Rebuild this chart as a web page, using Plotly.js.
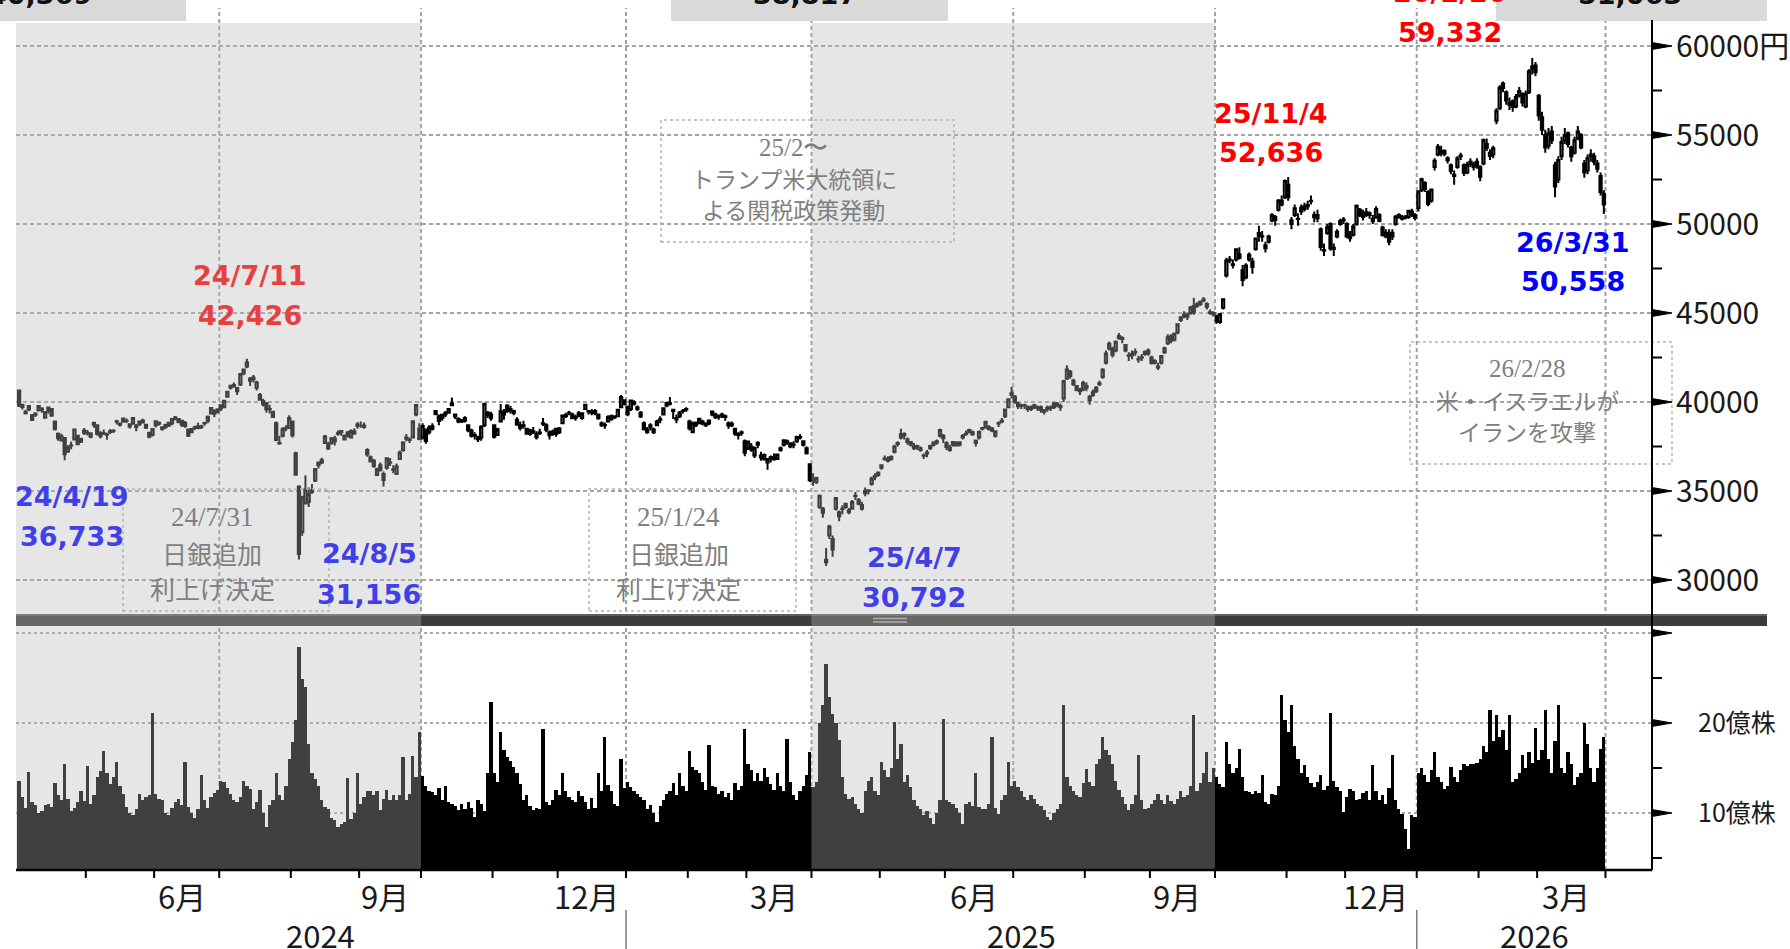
<!DOCTYPE html>
<html>
<head>
<meta charset="utf-8">
<script src="https://cdn.plot.ly/plotly-3.0.1.min.js"></script>
<style>
html,body{margin:0;padding:0;background:#fff;overflow:hidden}
#chart{width:1790px;height:949px}
</style>
</head>
<body>
<div id="chart"></div>
<script>
// ---------- DATA (Nikkei 225 daily, Apr 2024 - Mar 2026) ----------
// trading days in each month, starting April 2024
const startYear = 2024, startMonth = 4;
const monthDays = [21,21,20,22,21,19,22,20,21, 19,18,20,21,20,21,22,20,20,22,18,22, 19,18,21];

const openP = [
// 2024-04
40646,39720,39370,39580,39250,39290,39530,39630,39120,39690,39600,38900,38210,37840,37980,37200,37560,37900,38110,37770,38270,
// 2024-05
38240,38050,38720,38690,38260,38240,38160,38310,38380,38900,38720,38890,38950,38750,38780,38600,38750,38960,38720,38270,38160,
// 2024-06
38700,38780,38580,38590,38840,38800,39050,39050,38940,38650,38450,38300,38580,38540,38630,38820,38950,39350,39480,39450,
// 2024-07
39820,39700,40300,40800,40960,40600,40980,41620,42000,41300,41380,40800,40400,39880,39950,39600,39450,38800,37700,38100,38520,38540,
// 2024-08
38900,37120,35250,32700,34300,34400,34950,35570,36600,36600,37700,37600,37700,37800,38240,38300,37900,38130,38000,38210,38730,
// 2024-09
38700,38600,37300,36900,36700,35900,36450,35950,36300,36600,36200,35950,36800,37300,38000,37900,38000,39300,38500,
// 2024-10
38000,38450,38300,38500,39500,39200,39100,39300,39400,39820,39300,39050,38900,39100,38700,38400,38100,38000,38000,38700,39400,39300,
// 2024-11
38700,38150,38900,39300,39800,39600,39500,39000,38700,38700,38500,38200,38300,38200,38250,38800,38700,38300,38200,38500,
// 2024-12
38300,38800,39200,39400,39300,39100,39200,39100,39600,39500,39400,39500,39300,38700,38700,38900,39200,39200,39200,39700,40100,
// 2025-01
39700,39600,39900,39700,39400,38800,38300,38700,38300,38700,39000,39300,39800,39900,39500,39100,39200,39500,39600,
// 2025-02
38900,38300,38700,38800,38900,38700,38800,39300,39300,39200,39300,39200,38800,38700,38500,38200,38300,37800,
// 2025-03
37400,37500,37000,37600,37000,36800,36600,36900,36900,36800,37300,37600,37800,37500,37600,37800,38000,37600,37400,36500,
// 2025-04
35600,35500,34100,34000,31000,32500,32300,34000,33800,34000,34100,33800,34000,34700,34500,34000,35000,35000,35400,35800,35900,
// 2025-05
36300,36800,36700,36800,37200,37700,38000,38200,37900,37600,37400,37500,37400,37000,37100,37400,37600,37800,38100,38100,
// 2025-06
37700,37300,37600,37700,37600,38000,38200,38300,38300,37700,38000,38500,38600,38600,38500,38100,38800,38900,39200,39700,40400,
// 2025-07
40300,39900,39800,39800,39700,39600,39700,39700,39700,39500,39600,39700,39700,39900,39700,40200,41300,41700,41200,40900,40600,40700,
// 2025-08
40900,40100,40400,40600,41000,41400,42200,43000,43000,42900,43600,43600,43200,42600,42700,42800,42400,42500,42700,42900,
// 2025-09
42500,42200,42000,42200,42800,43300,43700,43500,43900,44600,44800,44900,45000,45400,45400,45500,45700,45500,45000,45000,
// 2025-10
44800,44500,45300,47100,48000,47700,48000,48300,47400,47000,48000,47900,48600,49500,49300,48800,49000,50200,50400,50800,51100,51500,
// 2025-11
52200,50000,50500,50300,50700,51000,51000,51300,50500,50500,49700,48500,49500,50000,48600,49300,50000,50200,
// 2025-12
50000,49200,49400,50000,50800,50400,50500,50500,50300,50400,50500,49800,49300,49500,49300,50000,50500,50300,50350,50400,50700,50500,
// 2026-01
50900,51900,52300,51800,51300,53200,53900,54000,54100,53700,53300,52700,53200,53800,53300,52900,53500,53200,53500,
// 2026-02
53200,53400,54500,54000,53900,55800,56500,57900,57400,56700,56900,56600,57200,57300,56600,57400,58700,58900,
// 2026-03
57200,56000,55000,54400,55200,53300,52500,53800,54700,55100,54300,54000,54800,55000,53400,53000,53800,53800,53400,52700,51700
];

const highP = [
40697,39900,39560,39790,39330,39420,39820,39700,39500,39750,39640,38940,38290,38220,38000,37570,37780,38470,38150,37990,38540,
38420,38300,38860,38720,38360,38450,38270,38480,38470,39000,38850,39130,39070,38810,39140,38770,38960,39060,38760,38290,38540,
38950,38910,38620,38780,38890,39080,39210,39090,39000,38930,38500,38500,38660,38830,38720,38890,39240,39700,39590,39650,
39840,40100,40630,40960,41100,40860,41600,41840,42426,41400,41520,41200,40500,40180,40000,39850,39480,38910,38100,38590,38700,39250,
38950,37200,35250,34740,35880,35200,35400,36280,36650,36870,38140,37750,38030,38100,38400,38400,38170,38370,38450,38520,38880,
38900,38850,37400,37000,36800,36300,36600,36100,36900,36850,36450,36550,37280,37800,38200,38000,38950,39870,38800,
38800,38500,38700,38800,39550,39300,39330,39500,39650,40250,39350,39150,39050,39200,38750,38500,38300,38100,38700,39930,39500,39450,
38750,38550,39890,39600,39880,39780,39570,39150,38900,38950,38560,38500,38600,38350,38500,39100,38800,38400,38450,38550,
38600,39300,39400,39500,39400,39280,39500,39400,39900,39550,39600,39600,39350,38900,38850,39250,39300,39250,39600,40400,40100,
39800,40100,40100,39800,39500,38900,38600,38800,38550,39000,39200,39700,40000,40280,39600,39300,39500,39600,39700,
39000,38900,38900,39100,39000,38850,39000,39500,39400,39300,39400,39300,38900,38900,38550,38300,38400,37900,
37800,37700,37500,37800,37200,37100,36850,37000,37100,37100,37500,37900,37900,37700,37800,38100,38200,37850,37500,36500,
36000,35800,34800,34100,31800,33100,32500,34640,33900,34200,34350,34050,34500,34950,34600,34400,35200,35100,35800,36000,36100,
36500,37000,36950,37000,37600,37800,38500,38300,38000,37800,37700,37600,37500,37100,37300,37600,37800,37900,38500,38200,
37800,37600,37800,37800,37800,38200,38400,38500,38400,37900,38400,38600,38900,38700,38600,38400,38900,39100,39600,40200,40850,
40400,40000,39900,39900,39800,39800,39900,39800,39800,39600,39800,39800,40000,40000,39900,41250,42065,41800,41300,40900,40800,41200,
41100,40400,40700,40900,41200,41900,42900,43400,43100,43450,43876,43700,43200,42800,42900,43000,42600,42700,42900,43000,
42600,42400,42200,42600,43100,43800,43800,43900,44400,44800,45100,45000,45400,45850,45600,45700,45900,45600,45200,45100,
44900,45000,45800,48100,48200,48000,48600,48700,47700,47800,48400,48100,49200,49900,49600,49000,49400,50600,50500,51400,51600,52500,
52636,50400,51100,50600,51100,51200,51300,51600,50700,50800,49800,48900,50000,50100,48900,49700,50300,50400,
50100,49600,50000,51100,50900,50800,50900,50700,50500,51000,50600,49900,49700,49700,49700,50500,50600,50500,50500,50800,50850,50600,
51900,52600,52400,51900,52000,53700,54500,54400,54200,53800,53400,53000,53800,54000,53400,53500,53700,53500,53700,
53300,54800,54800,54200,54400,56500,57800,58000,57500,57100,57000,57300,57700,57400,57500,58700,59332,59100,
57300,56300,55300,55400,55500,53500,53800,54900,55400,55200,54400,54900,55500,55100,53600,53900,54200,54000,53600,52900,51900
];

const lowP = [
39720,39580,39300,39500,38950,39160,39460,39400,39060,39340,39210,38400,37820,37780,36733,37150,37340,37890,37590,37700,38150,
38120,37970,38550,38120,37950,38150,37880,38200,38260,38730,38620,38830,38820,38510,38730,38360,38650,38800,38480,37970,38060,
38570,38680,38380,38480,38600,38700,38970,38800,38600,38550,38040,38250,38420,38470,38480,38660,38800,39300,39150,39350,
39500,39650,40270,40700,40800,40400,40900,41500,41900,40900,41100,40650,40100,39750,39400,39350,39100,37800,37600,38000,38350,38500,
38000,35880,31156,32480,34300,34100,34850,35500,36270,36500,37640,37300,37600,37550,38100,38100,37900,38000,37950,38200,38500,
38550,38500,36930,36620,36300,35850,36100,35250,36200,36400,36000,35900,36750,37200,37800,37700,37950,39200,37850,
37900,37650,38180,38400,39250,38700,38950,39150,39350,39800,39050,38800,38820,38850,38300,38000,37900,37750,37830,38600,39100,38950,
37950,38100,38880,39000,39400,39350,39250,38700,38400,38500,38180,38100,38200,37900,38150,38650,38300,37900,38100,38050,
38200,38750,39100,39250,39050,38950,39150,39000,39550,39300,39250,39250,39000,38600,38500,38850,38950,39050,39150,39700,39800,
39200,39500,39800,39500,39100,38400,38220,38400,38200,38650,38800,39250,39700,39800,39050,38800,39100,39350,39450,
38400,38250,38600,38750,38700,38600,38700,39200,39050,39000,39100,38950,38500,38600,38100,37900,38100,36950,
37300,37200,36850,37400,36700,36700,36200,36600,36700,36750,37200,37500,37600,37400,37400,37700,37900,37500,37050,35500,
35300,35400,34000,33500,30792,32300,31300,33900,33300,33700,34000,33700,33950,34500,34200,33900,34700,34800,35300,35600,35800,
36200,36700,36600,36700,37100,37500,37900,37900,37600,37500,37300,37300,37200,36800,36900,37300,37500,37600,38000,37700,
37300,37200,37500,37500,37500,37900,38100,38250,38100,37500,37900,38400,38500,38400,38300,38000,38600,38800,39100,39700,40200,
39900,39600,39600,39600,39450,39500,39600,39500,39400,39300,39450,39500,39600,39700,39500,40000,41300,41300,40900,40600,40400,40600,
40600,39850,40300,40500,40900,41300,42100,42900,42500,42800,43500,43300,42800,42300,42400,42600,42200,42300,42600,42600,
42100,42100,41800,42100,42700,43200,43300,43400,43800,44500,44700,44600,44900,44900,45300,45400,45600,45200,44900,44800,
44400,44400,45200,47000,47800,47500,47900,48000,46500,46900,47900,47200,48500,49000,49000,48400,48900,50100,49900,50700,51000,51400,
51300,49700,50400,49900,50500,50700,50800,51100,50100,50100,48500,48200,49400,48500,48200,49200,49900,50000,
49200,49000,49300,49900,50400,50200,50400,50300,50000,50300,50100,49300,49200,48800,49100,49900,50300,50200,50250,50300,50400,50200,
50700,51800,51800,51000,51200,53000,53800,53800,53800,53400,52800,52200,53100,53600,52700,52800,53200,53000,53100,
52400,53300,54100,53600,53700,55600,56400,57400,56700,56400,56300,56500,57100,56600,56500,57300,58400,58300,
55800,55000,54000,54200,54500,51500,52300,53600,54500,54300,53500,53900,54700,54200,52600,52800,53500,53300,52900,51600,50558
];

const closeP = [
39803,39838,39451,39773,38992,39347,39773,39581,39442,39523,39233,38471,37961,38079,37068,37438,37552,38460,37628,37934,38405,
38274,38236,38835,38202,38073,38229,38179,38356,38385,38920,38787,39069,38946,38617,39103,38646,38900,38855,38556,38054,38487,
38923,38837,38490,38703,38683,39038,39134,38876,38720,38814,38102,38482,38570,38633,38596,38804,39173,39667,39341,39583,
39631,40074,40580,40913,40912,40780,41580,41831,42224,41190,41275,41097,40126,40063,39599,39594,39154,37869,37667,38468,38525,39101,
38126,35909,31458,34675,35089,34831,35025,36232,36442,36726,38062,37388,37964,37951,38211,38364,38110,38288,38371,38362,38647,
38700,38686,37047,36657,36391,36215,36159,35619,36833,36581,36203,36380,37155,37723,37940,37870,38925,39829,37919,
38651,37808,38552,38635,39332,38937,39277,39380,39605,39910,39180,38911,38981,38954,38411,38104,38143,37913,38605,39903,39277,39081,
38053,38474,39480,39381,39500,39533,39376,38721,38535,38642,38220,38414,38352,38026,38283,38780,38442,38134,38349,38208,
38513,39248,39276,39395,39091,39160,39367,39372,39849,39470,39457,39364,39081,38813,38701,39161,39036,39130,39568,40281,39894,
39307,40083,39981,39605,39190,38474,38445,38572,38451,38902,39027,39646,39958,39931,39565,39016,39415,39513,39572,
38520,38798,38831,39066,38787,38801,38963,39461,39149,39174,39270,39164,38678,38776,38237,38142,38256,37155,
37785,37331,37418,37704,36887,37028,36793,36819,36790,37053,37396,37845,37751,37677,37608,38027,38027,37799,37120,35617,
35624,35725,34736,33780,31136,33012,31714,34609,33586,33982,34267,33920,34377,34730,34280,34220,34868,35039,35705,35839,36045,
36452,36830,36779,36928,37503,37644,38183,38128,37755,37753,37498,37529,37298,36985,37160,37531,37724,37722,38432,37965,
37470,37446,37747,37554,37741,38088,38211,38421,38173,37834,38311,38536,38885,38488,38403,38354,38790,38942,39584,40150,40487,
39986,39762,39785,39811,39587,39688,39821,39646,39570,39459,39678,39663,39901,39819,39774,41171,41826,41456,40998,40674,40654,41069,
40800,40290,40549,40794,41059,41820,42718,43274,42649,43378,43714,43546,42888,42610,42633,42807,42394,42520,42829,42718,
42188,42310,41938,42580,43018,43643,43459,43837,44372,44768,44902,44790,45303,45045,45493,45630,45754,45354,45043,44932,
44550,44936,45769,47944,47950,47734,48580,48088,46847,47672,48277,47582,49185,49316,49307,48641,49299,50512,50219,51307,51325,52411,
51497,50212,50883,50276,50911,50842,51063,51281,50376,50323,48702,48537,49823,48625,48659,49559,50167,50253,
49303,49303,49864,51028,50491,50581,50655,50602,50148,50837,50168,49383,49512,49001,49507,50402,50412,50344,50407,50750,50527,50339,
51830,52520,51960,51120,51940,53550,54340,54110,53940,53580,52990,52770,53690,53850,52880,53330,53360,53380,53320,
52650,54720,54290,53820,54250,56360,57650,57640,56940,56810,56570,57140,57470,56830,57320,58580,58850,58520,
56100,55300,54300,55100,54700,52100,53600,54600,55000,54500,53800,54700,55200,54300,52900,53700,53900,53500,53100,51800,51100
];

// volume, 億株
const volume = [
13.6,11.8,10.6,14.6,11.2,10.9,10.0,10.2,10.9,11.0,10.7,13.3,12.0,11.5,15.5,11.6,10.2,10.6,11.2,12.4,11.3,
15.2,11.0,12.0,14.0,14.7,16.9,14.5,13.2,14.0,15.7,13.0,12.1,10.7,10.0,9.8,10.5,12.1,11.5,11.8,12.0,21.1,
12.1,11.6,11.4,10.0,9.8,10.6,11.2,11.6,10.9,15.7,10.7,10.0,9.4,10.5,14.2,11.4,10.6,11.8,12.2,12.6,
13.6,13.4,12.8,12.1,11.5,11.2,11.8,13.6,13.0,12.7,10.5,11.2,12.6,10.0,8.4,10.9,11.5,14.5,12.0,11.4,13.0,16.0,
17.9,20.3,28.4,24.9,24.0,17.7,14.4,13.8,13.0,11.4,10.7,10.4,9.5,9.2,8.4,8.8,9.0,13.9,9.3,10.0,14.5,
11.0,11.8,12.5,12.5,12.0,12.5,10.3,11.6,12.6,11.5,12.0,11.4,12.0,16.2,11.4,12.1,16.3,14.0,19.0,
14.1,13.0,12.5,12.3,12.0,12.8,11.4,13.0,11.2,11.0,10.8,10.3,11.0,10.5,11.2,10.6,9.6,11.5,11.0,10.2,14.4,22.3,
14.4,13.5,19.0,17.0,16.2,15.8,15.1,14.4,13.2,11.4,12.0,10.8,10.3,10.6,10.5,19.3,11.2,10.9,11.4,12.6,
12.0,14.4,12.5,11.8,11.4,11.2,12.5,11.9,11.2,10.5,11.7,10.6,14.4,12.5,18.4,13.1,12.4,11.0,10.8,16.0,12.8,
13.5,12.9,12.5,12.1,11.8,11.4,10.5,10.9,10.0,9.0,10.8,11.4,12.1,12.4,13.3,12.0,14.4,13.0,12.5,
16.9,15.1,14.8,14.5,13.5,12.6,17.6,13.0,12.9,12.1,12.5,11.8,12.2,11.5,13.3,12.6,13.0,19.3,
15.5,14.8,13.6,14.5,13.6,15.0,14.0,13.2,12.6,14.5,13.0,12.5,18.2,13.5,12.0,11.4,12.4,13.0,14.2,16.8,
12.9,13.5,20.0,22.0,26.6,22.9,21.0,20.0,18.1,14.0,12.1,11.6,11.8,11.0,10.4,10.0,12.5,13.6,14.0,12.5,12.0,
15.7,14.8,14.0,15.0,20.1,16.0,17.7,13.5,14.2,12.9,11.4,10.8,10.5,9.8,10.2,9.5,8.8,10.0,11.4,20.4,
11.4,11.2,11.0,10.6,10.0,8.8,11.0,11.2,10.8,14.4,10.7,10.5,10.4,11.0,18.4,10.6,9.9,11.5,12.0,15.7,13.0,
13.6,12.9,12.5,11.8,11.4,12.0,11.6,11.0,10.8,10.3,9.6,9.2,10.0,10.5,11.0,22.0,14.0,13.0,12.5,12.0,11.8,13.3,
14.9,13.5,13.0,15.5,16.0,18.5,17.0,16.5,15.5,13.6,12.6,11.8,11.0,10.3,11.0,12.0,16.4,11.4,10.5,10.6,
11.0,11.5,12.1,11.4,11.0,12.0,11.3,11.0,11.6,12.5,11.8,12.0,13.0,20.9,12.5,13.3,14.5,16.8,13.5,15.0,
14.0,13.2,12.9,17.9,15.5,14.4,15.0,17.1,14.0,12.5,12.3,12.1,12.5,12.2,14.2,11.2,11.0,12.1,12.0,13.0,23.1,20.3,
19.0,22.0,17.5,16.0,14.5,15.3,14.0,13.3,12.9,13.5,14.2,12.6,13.0,21.1,13.6,12.9,12.5,10.1,
11.8,12.7,12.5,11.4,11.6,12.2,12.4,11.5,15.3,12.5,11.4,12.0,11.0,12.8,16.4,11.4,10.5,9.9,8.2,6.0,9.8,9.6,
14.4,15.0,14.2,13.5,14.8,16.8,14.0,13.4,12.7,13.0,15.1,14.0,13.5,14.8,15.4,15.2,15.5,15.4,15.6,
16.0,17.5,16.8,21.4,18.0,20.9,18.5,19.2,17.0,20.9,13.4,13.8,14.5,16.4,15.0,16.8,15.6,19.4,
15.9,17.0,21.4,16.0,14.4,18.0,22.0,15.0,14.4,16.8,15.5,13.1,14.0,14.5,20.0,17.7,15.0,13.4,15.0,17.1,18.4
];

const priceTicks = [30000,35000,40000,45000,50000,55000,60000];
const priceTickText = ['30000','35000','40000','45000','50000','55000','60000円'];
const priceMinor = [32500,37500,42500,47500,52500,57500];
const volTicks = [10,20,30];
const volTickText = ['10億株','20億株',''];
const volMinor = [5,15,25];

// labelled highs / lows
const markLabels = [
  {date:'24/7/11', value:'42,426', fx:250,  fy1:275, fy2:315, color:'#e64040'},
  {date:'24/4/19', value:'36,733', fx:72,   fy1:497, fy2:536, color:'#4040e6'},
  {date:'24/8/5',  value:'31,156', fx:369,  fy1:553, fy2:594, color:'#4040e6'},
  {date:'25/4/7',  value:'30,792', fx:914,  fy1:557, fy2:597, color:'#4040e6'},
  {date:'25/11/4', value:'52,636', fx:1271, fy1:114, fy2:152, color:'#ff0000'},
  {date:'26/3/31', value:'50,558', fx:1573, fy1:242, fy2:281, color:'#0000ff'},
  {date:'26/2/26', value:'59,332', fx:1450, fy1:-8,  fy2:32,  color:'#ff0000'}
];
// event notes
const notes = [
  {lines:['24/7/31','日銀追加','利上げ決定'], box:[123,489,329,611], ly:[517,553,588], size:25, dsize:27},
  {lines:['25/1/24','日銀追加','利上げ決定'], box:[589,489,796,611], ly:[517,553,588], size:25, dsize:27},
  {lines:['25/2〜','トランプ米大統領に','よる関税政策発動'], box:[661,120,954,242], ly:[147,178,209], size:23, dsize:25},
  {lines:['26/2/28','米・イスラエルが','イランを攻撃'], box:[1410,342,1672,464], ly:[368,400,431], size:23, dsize:25}
];
// cut-off labels at the very top
const topBoxes = [
  {text:'40,369', box:[0,0,186,21], tx:40},
  {text:'38,817', box:[671,0,948,21], tx:805},
  {text:'51,063', box:[1496,0,1767,21], tx:1630}
];

// ---------- LAYOUT ----------
const W = 1790, H = 949;
const M = {l:16, r:138, t:23, b:79};
const plotW = W - M.l - M.r, plotH = H - M.t - M.b;
const PX = fx => (fx - M.l) / plotW;
const PY = fy => (H - M.b - fy) / plotH;
const xMin = -0.95, xMax = 501.8;

const N = closeP.length;
const idx = closeP.map((_, i) => i);

// month bookkeeping
const monthStart = [];
{ let s = 0; for (let k = 0; k <= monthDays.length; k++) { monthStart.push(s); if (k < monthDays.length) s += monthDays[k]; } }
const monthNum = k => ((startMonth - 1 + k) % 12) + 1;
const yearOf = k => startYear + Math.floor((startMonth - 1 + k) / 12);

const shapes = [];
const annotations = [];

// vertical quarter gridlines
for (let k = 1; k <= monthDays.length; k++) {
  const m = monthNum(k);
  if (m % 3 === 1) {
    const b = monthStart[k] - 0.5;
    shapes.push({type:'line', layer:'below', xref:'x', yref:'paper', x0:b, x1:b, y0:0, y1:PY(8),
      line:{color:'#a0a0a0', width:2, dash:'4px,3px'}});
  }
}
// separator bar between panels
shapes.push({type:'rect', layer:'below', xref:'paper', yref:'paper', x0:0, x1:PX(1767), y0:PY(626), y1:PY(614),
  fillcolor:'#3c3c3c', line:{width:0}});
shapes.push({type:'line', layer:'below', xref:'paper', yref:'paper', x0:0, x1:PX(1767), y0:PY(615), y1:PY(615),
  line:{color:'#6a6a6a', width:1.5}});
shapes.push({type:'line', layer:'below', xref:'paper', yref:'paper', x0:PX(873), x1:PX(907), y0:PY(618.5), y1:PY(618.5),
  line:{color:'#a8a8a8', width:1.5}});
shapes.push({type:'line', layer:'below', xref:'paper', yref:'paper', x0:PX(873), x1:PX(907), y0:PY(622), y1:PY(622),
  line:{color:'#a8a8a8', width:1.5}});

// half-year shading (Apr-Sep), drawn above the marks
for (let k = 0; k < monthDays.length; k++) {
  if (monthNum(k) === 4) {
    const k2 = k + 6;
    if (k2 <= monthDays.length) {
      const x0 = k === 0 ? xMin : monthStart[k] - 0.5;
      const x1 = monthStart[k2] - 0.5;
      shapes.push({type:'rect', layer:'above', xref:'x', yref:'paper', x0:x0, x1:x1, y0:0, y1:1,
        fillcolor:'rgba(183,183,183,0.35)', line:{width:0}});
    }
  }
}

// note boxes
notes.forEach(n => {
  const [x0,y0,x1,y1] = n.box;
  shapes.push({type:'rect', layer:'above', xref:'paper', yref:'paper', x0:PX(x0), x1:PX(x1), y0:PY(y1), y1:PY(y0),
    fillcolor:'rgba(0,0,0,0)', line:{color:'#b4b4b4', width:1.5, dash:'dot'}});
  const cx = PX((x0 + x1) / 2 - 14);
  n.lines.forEach((t, j) => {
    annotations.push({xref:'paper', yref:'paper', x:cx, y:PY(n.ly[j]), xanchor:'center', yanchor:'middle',
      text:t, showarrow:false, borderpad:0,
      font:{family: j === 0 ? 'Liberation Serif' : 'Noto Sans CJK JP', size: j === 0 ? n.dsize : n.size, color:'#7f7f7f'}});
  });
});

// top cut-off boxes
topBoxes.forEach(b => {
  const [x0,y0,x1,y1] = b.box;
  shapes.push({type:'rect', layer:'above', xref:'paper', yref:'paper', x0:PX(x0), x1:PX(x1), y0:PY(y1), y1:PY(y0 - 5),
    fillcolor:'#d9d9d9', line:{width:0}});
  annotations.push({xref:'paper', yref:'paper', x:PX(b.tx), y:PY(-6), xanchor:'center', yanchor:'middle',
    text:b.text, showarrow:false, font:{family:'DejaVu Sans', size:27, weight:'bold', color:'#111'}});
});

// axis lines
shapes.push({type:'line', layer:'above', xref:'paper', yref:'paper', x0:1, x1:1, y0:0, y1:PY(20),
  line:{color:'#000', width:2}});
shapes.push({type:'line', layer:'above', xref:'paper', yref:'paper', x0:0, x1:1, y0:0, y1:0,
  line:{color:'#000', width:2.5}});

// price axis arrows & minor ticks
const tri = 'M0,-3.5 L0,3.5 L20,0 Z';
priceTicks.forEach(v => shapes.push({type:'path', layer:'above', xref:'paper', yref:'y', xsizemode:'pixel', ysizemode:'pixel',
  xanchor:1, yanchor:v, path:tri, fillcolor:'#000', line:{color:'#000', width:1}}));
priceMinor.forEach(v => shapes.push({type:'line', layer:'above', xref:'paper', yref:'y', xsizemode:'pixel',
  xanchor:1, x0:0, x1:10, y0:v, y1:v, line:{color:'#000', width:2}}));
volTicks.forEach(v => shapes.push({type:'path', layer:'above', xref:'paper', yref:'y2', xsizemode:'pixel', ysizemode:'pixel',
  xanchor:1, yanchor:v, path:tri, fillcolor:'#000', line:{color:'#000', width:1}}));
volMinor.forEach(v => shapes.push({type:'line', layer:'above', xref:'paper', yref:'y2', xsizemode:'pixel',
  xanchor:1, x0:0, x1:10, y0:v, y1:v, line:{color:'#000', width:2}}));

// month ticks and labels
for (let k = 1; k <= monthDays.length; k++) {
  const b = monthStart[k] - 0.5;
  shapes.push({type:'line', layer:'above', xref:'x', yref:'paper', ysizemode:'pixel', yanchor:0,
    x0:b, x1:b, y0:0, y1:-8, line:{color:'#000', width:2}});
}
for (let k = 0; k < monthDays.length; k++) {
  const m = monthNum(k);
  if (m % 3 === 0) {
    annotations.push({xref:'x', yref:'paper', x:monthStart[k] + monthDays[k] / 2 - 0.5, y:PY(895), xshift:-5,
      xanchor:'center', yanchor:'middle', text:m + '月', showarrow:false,
      font:{family:'Noto Sans CJK JP', size:31, color:'#1a1a1a'}});
  }
}
// years
const years = [...new Set(monthDays.map((_, k) => yearOf(k)))];
years.forEach(y => {
  let a = null, e = null;
  for (let k = 0; k < monthDays.length; k++) {
    if (yearOf(k) === y) { if (a === null) a = k; e = k; }
  }
  const x0 = a === 0 ? xMin : monthStart[a] - 0.5;
  const x1 = e === monthDays.length - 1 ? xMax : monthStart[e + 1] - 0.5;
  annotations.push({xref:'x', yref:'paper', x:(x0 + x1) / 2, y:PY(934), xanchor:'center', yanchor:'middle',
    text:String(y), showarrow:false, font:{family:'Noto Sans CJK JP', size:31, color:'#1a1a1a'}});
  if (a !== 0) {
    shapes.push({type:'line', layer:'above', xref:'x', yref:'paper', x0:x0, x1:x0, y0:PY(910), y1:PY(952),
      line:{color:'#7a7a7a', width:1.5}});
  }
});

// high / low labels
markLabels.forEach(l => {
  annotations.push({xref:'paper', yref:'paper', x:PX(l.fx), y:PY(l.fy1), xanchor:'center', yanchor:'middle',
    text:l.date, showarrow:false, font:{family:'DejaVu Sans', size:27, weight:'bold', color:l.color}});
  annotations.push({xref:'paper', yref:'paper', x:PX(l.fx), y:PY(l.fy2), xanchor:'center', yanchor:'middle',
    text:l.value, showarrow:false, font:{family:'DejaVu Sans', size:27, weight:'bold', color:l.color}});
});

const traces = [
  {type:'candlestick', x:idx, open:openP, high:highP, low:lowP, close:closeP, xaxis:'x', yaxis:'y',
   whiskerwidth:0,
   increasing:{line:{color:'#000', width:2}, fillcolor:'#ffffff'},
   decreasing:{line:{color:'#000', width:2}, fillcolor:'#000000'},
   hoverinfo:'skip', showlegend:false},
  {type:'bar', x:idx, y:volume, xaxis:'x', yaxis:'y2', marker:{color:'#000', line:{width:0}},
   hoverinfo:'skip', showlegend:false}
];

const layout = {
  width:W, height:H,
  margin:{l:M.l, r:M.r, t:M.t, b:M.b, pad:0},
  paper_bgcolor:'#ffffff', plot_bgcolor:'rgba(0,0,0,0)',
  showlegend:false, hovermode:false, dragmode:false,
  boxgap:0, bargap:0,
  xaxis:{range:[xMin, xMax], anchor:'y2', showticklabels:false, showgrid:false, zeroline:false, showline:false,
    ticks:'', fixedrange:true, rangeslider:{visible:false}},
  yaxis:{domain:[PY(614), 1], range:[28090, 61292], side:'right', anchor:'x',
    tickvals:priceTicks, ticktext:priceTickText, ticks:'outside', ticklen:17, tickcolor:'rgba(0,0,0,0)',
    tickfont:{family:'Noto Sans CJK JP', size:30, color:'#1a1a1a'},
    showgrid:true, gridcolor:'#a3a3a3', gridwidth:2, griddash:'4px,3px', zeroline:false, showline:false, fixedrange:true},
  yaxis2:{domain:[0, PY(626)], range:[3.667, 30.78], side:'right', anchor:'x',
    tickvals:volTicks, ticktext:volTickText, ticks:'outside', ticklen:40, tickcolor:'rgba(0,0,0,0)',
    tickfont:{family:'Noto Sans CJK JP', size:25, color:'#1a1a1a'},
    showgrid:true, gridcolor:'#a8a8a8', gridwidth:2, griddash:'dot', zeroline:false, showline:false, fixedrange:true},
  shapes:shapes,
  annotations:annotations
};

Plotly.newPlot('chart', traces, layout, {staticPlot:true, displayModeBar:false});
</script>
</body>
</html>
